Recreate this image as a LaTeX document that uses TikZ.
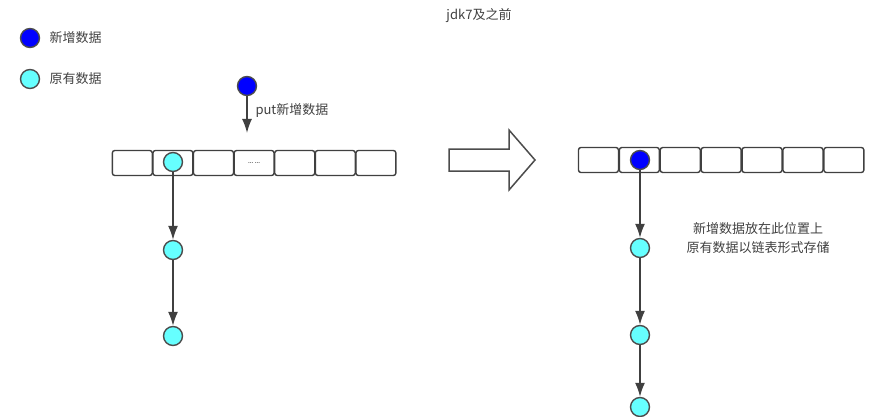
\documentclass[tikz,border=0pt]{standalone}
\usepackage{fontspec}
\setmainfont{Noto Sans CJK SC}
\usetikzlibrary{positioning,arrows.meta}
\definecolor{olddatafill}{RGB}{102,255,255}

\begin{document}
\begin{tikzpicture}[
        x=1pt, y=-1pt,
        >={Latex[length=14pt,width=10pt]},
        every node/.style={font=\fontsize{13}{19}\selectfont, text=black!75},
        cell/.style={draw=black!75, line width=1.4pt, rounded corners=2.5pt, minimum width=40pt, minimum height=25pt, inner sep=0pt},
        newdata/.style={circle, draw=black!70, line width=1.4pt, fill=blue, minimum size=19pt, inner sep=0pt},
        olddata/.style={circle, draw=black!70, line width=1.4pt, fill=olddatafill, minimum size=19pt, inner sep=0pt},
        link/.style={->, draw=black!75, line width=1.5pt}
    ]
      \useasboundingbox (0,0) rectangle (891,417);

      % legend and title
      \node[newdata] (lgnew) at (30,38) {};
      \node[right=6pt of lgnew] (lgnewtxt) {新增数据};
      \node[olddata] (lgold) at (30,79) {};
      \node[right=6pt of lgold] (lgoldtxt) {原有数据};
      \node (title) at (479,16) {jdk7及之前};

      % before: table with a chain
      \foreach \i in {1,...,7}
        \node[cell] (l\i) at ({112+40.6*(\i-0.5)},163) {};
      \node[font=\tiny, text=black!60] (dots) at (l4) {\textbf{... ...}};

      \node[newdata] (put) at (247,86) {};
      \coordinate (putend) at (247,133);
      \node[anchor=west] (puttxt) at (252,111) {put新增数据};
      \draw[link] (put) -- (putend);

      \node[olddata] (la) at (173,162) {};
      \node[olddata] (lb) at (173,250) {};
      \node[olddata] (lc) at (173,336) {};
      \draw[link] (la) -- (lb);
      \draw[link] (lb) -- (lc);

      % hollow arrow
      \draw[line width=1.5pt, draw=black!70] (449,149) -- (509,149) -- (509,130) -- (535,160)
        -- (509,190) -- (509,171) -- (449,171) -- cycle;

      % after: new entry at the head of the chain
      \foreach \i in {1,...,7}
        \node[cell] (r\i) at ({578+40.9*(\i-0.5)},160) {};

      \node[newdata] (ra) at (640,160) {};
      \node[olddata] (rb) at (640,248) {};
      \node[olddata] (rc) at (640,335) {};
      \node[olddata] (rd) at (640,407) {};
      \draw[link] (ra) -- (rb);
      \draw[link] (rb) -- (rc);
      \draw[link] (rc) -- (rd);

      \node[align=center] (note) at (758,238) {新增数据放在此位置上\\原有数据以链表形式存储};
    \end{tikzpicture}
\end{document}
